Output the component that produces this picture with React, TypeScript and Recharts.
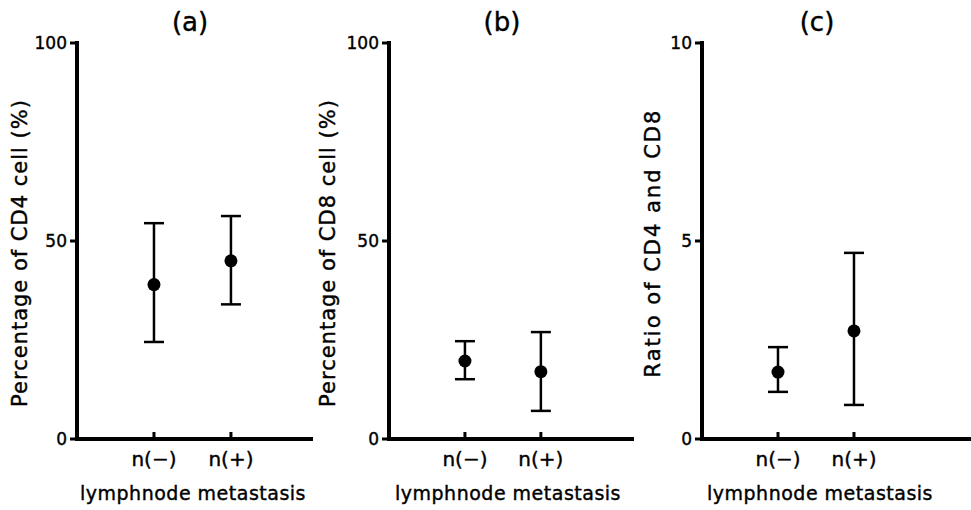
import { ScatterChart, Scatter, XAxis, YAxis, ErrorBar } from 'recharts'

const categories = ['n(−)', 'n(+)']

// (a) CD4 %
const cd4Mean = [39, 45]
const cd4Low = [24.5, 34]
const cd4High = [54.5, 56.3]

// (b) CD8 %
const cd8Mean = [19.7, 17]
const cd8Low = [15.1, 7.1]
const cd8High = [24.7, 27]

// (c) CD4/CD8 ratio
const ratioMean = [1.69, 2.73]
const ratioLow = [1.19, 0.86]
const ratioHigh = [2.32, 4.7]

const pctTicks = [0, 50, 100]
const ratioTicks = [0, 5, 10]

const FONT = '"DejaVu Sans", sans-serif'
// slight stroke to mimic the heavier print face
const ink = { fill: '#000', stroke: '#000', strokeWidth: 0.4 }

function buildRows(mean: number[], low: number[], high: number[]) {
  return categories.map((c, i) => ({
    x: i + 1,
    name: c,
    y: mean[i],
    err: [mean[i] - low[i], high[i] - mean[i]],
  }))
}

interface PanelProps {
  left: number
  width: number
  plotLeft: number
  marginRight: number
  xMax: number
  yMax: number
  yTicks: number[]
  rows: ReturnType<typeof buildRows>
  title: string
  titleX: number
  yLabel: string
  yLabelX: number
  yLabelY: number
  yLabelSpacing: number
  xLabelX: number
}

function CatTick({ x, y, payload }: any) {
  return (
    <g>
      <line x1={x} y1={y - 7} x2={x} y2={y} stroke="#000" strokeWidth={3} />
      <text x={x} y={y + 27} textAnchor="middle" fontSize={20} fontFamily={FONT} {...ink}>
        {categories[payload.value - 1]}
      </text>
    </g>
  )
}

function Dot(p: any) {
  return <circle cx={p.cx} cy={p.cy} r={6.5} fill="#000" />
}

function Panel(p: PanelProps) {
  return (
    <div style={{ position: 'absolute', left: p.left, top: 0 }}>
      <ScatterChart
        width={p.width}
        height={510}
        margin={{ top: 43, right: p.marginRight, bottom: 0, left: p.plotLeft - 40 }}
      >
        <XAxis
          dataKey="x"
          type="number"
          domain={[0, p.xMax]}
          ticks={[1, 2]}
          height={71}
          axisLine={{ stroke: '#000', strokeWidth: 4, strokeLinecap: 'square' }}
          tickLine={false}
          tickSize={0}
          tickMargin={0}
          tick={<CatTick />}
          allowDataOverflow
        />
        <YAxis
          dataKey="y"
          type="number"
          width={40}
          domain={[0, p.yMax]}
          ticks={p.yTicks}
          interval={0}
          allowDataOverflow
          axisLine={{ stroke: '#000', strokeWidth: 4, strokeLinecap: 'square' }}
          tickLine={{ stroke: '#000', strokeWidth: 3 }}
          tickSize={7}
          tickMargin={3}
          tick={{ ...ink, fontSize: 17, fontFamily: FONT }}
        />
        <Scatter data={p.rows} dataKey="y" shape={<Dot />} isAnimationActive={false}>
          <ErrorBar dataKey="err" direction="y" width={10} strokeWidth={2.5} stroke="#000" />
        </Scatter>
        <text x={p.titleX} y={31} textAnchor="middle" fontSize={26} fontFamily={FONT} {...ink}>
          {p.title}
        </text>
        <text
          x={p.yLabelX}
          y={p.yLabelY}
          textAnchor="middle"
          fontSize={21}
          letterSpacing={p.yLabelSpacing}
          fontFamily={FONT}
          {...ink}
          transform={`rotate(-90 ${p.yLabelX} ${p.yLabelY})`}
        >
          {p.yLabel}
        </text>
        <text
          x={p.xLabelX}
          y={500}
          textAnchor="middle"
          fontSize={19}
          letterSpacing={0.5}
          fontFamily={FONT}
          {...ink}
        >
          lymphnode metastasis
        </text>
      </ScatterChart>
    </div>
  )
}

export default function App() {
  return (
    <div style={{ position: 'absolute', left: 0, top: 0, width: 971, height: 510, background: '#fff' }}>
      <Panel
        left={0}
        width={330}
        plotLeft={77}
        marginRight={19}
        xMax={3.04}
        yMax={100}
        yTicks={pctTicks}
        rows={buildRows(cd4Mean, cd4Low, cd4High)}
        title="(a)"
        titleX={190}
        yLabel="Percentage of CD4 cell (%)"
        yLabelX={27}
        yLabelY={253}
        yLabelSpacing={1}
        xLabelX={193}
      />
      <Panel
        left={300}
        width={350}
        plotLeft={89}
        marginRight={18}
        xMax={3.2}
        yMax={100}
        yTicks={pctTicks}
        rows={buildRows(cd8Mean, cd8Low, cd8High)}
        title="(b)"
        titleX={202}
        yLabel="Percentage of CD8 cell (%)"
        yLabelX={35}
        yLabelY={253}
        yLabelSpacing={1}
        xLabelX={208}
      />
      <Panel
        left={640}
        width={331}
        plotLeft={62}
        marginRight={0}
        xMax={3.54}
        yMax={10}
        yTicks={ratioTicks}
        rows={buildRows(ratioMean, ratioLow, ratioHigh)}
        title="(c)"
        titleX={177}
        yLabel="Ratio of CD4 and CD8"
        yLabelX={20}
        yLabelY={243}
        yLabelSpacing={2}
        xLabelX={180}
      />
    </div>
  )
}
